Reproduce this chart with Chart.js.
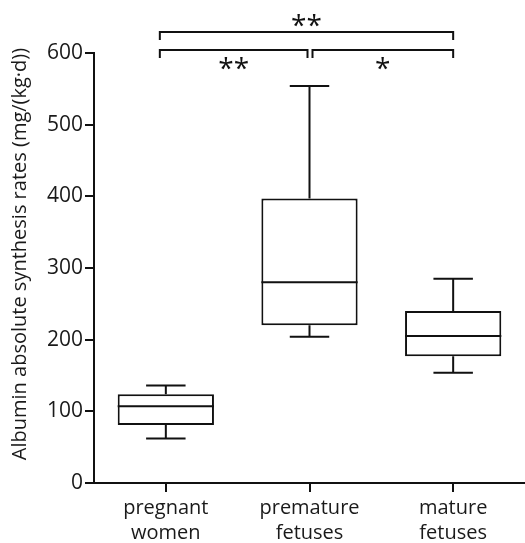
<!DOCTYPE html>
<html>
<head>
<meta charset="utf-8">
<script src="https://cdn.jsdelivr.net/npm/chart.js@4.4.1/dist/chart.umd.min.js"></script>
<style>
  html, body { margin: 0; padding: 0; background: #fff; }
  #wrap { width: 525px; height: 543px; }
</style>
</head>
<body>
<div id="wrap"><canvas id="boxChart" width="525" height="543"></canvas></div>
<script>
// Data
const groups = [["pregnant", "women"], ["premature", "fetuses"], ["mature", "fetuses"]];
const whiskerMin = [62, 204, 154];
const q1Values = [81, 220, 177];
const medians = [107, 280, 205];
const q3Values = [124, 397, 240];
const whiskerMax = [136, 554, 285];
const yTicks = [0, 100, 200, 300, 400, 500, 600];
const yTitle = "Albumin absolute synthesis rates (mg/(kg·d))";

// significance brackets: [from group, to group, label, level]
const brackets = [
  [0, 2, "**", 0],
  [0, 1, "**", 1],
  [1, 2, "*", 1],
];

const INK = "#111";
const FONT = "'Open Sans', sans-serif";

// Whiskers, medians, significance brackets and the y title
const boxPlotPlugin = {
  id: "boxPlot",
  afterDatasetsDraw(chart) {
    const ctx = chart.ctx;
    const yScale = chart.scales.y;
    const xScale = chart.scales.x;
    const meta = chart.getDatasetMeta(0);

    ctx.save();
    ctx.strokeStyle = INK;
    ctx.lineWidth = 2;
    ctx.lineCap = "butt";

    meta.data.forEach((bar, i) => {
      const x = bar.x;
      const half = bar.width / 2;
      const capHalf = bar.width * 0.205;
      const yMed = yScale.getPixelForValue(medians[i]);
      const yQ1 = yScale.getPixelForValue(q1Values[i]);
      const yQ3 = yScale.getPixelForValue(q3Values[i]);
      const yMin = yScale.getPixelForValue(whiskerMin[i]);
      const yMax = yScale.getPixelForValue(whiskerMax[i]);

      ctx.beginPath();
      // median
      ctx.moveTo(x - half, yMed);
      ctx.lineTo(x + half, yMed);
      // upper whisker
      ctx.moveTo(x, yQ3);
      ctx.lineTo(x, yMax);
      ctx.moveTo(x - capHalf, yMax);
      ctx.lineTo(x + capHalf, yMax);
      // lower whisker
      ctx.moveTo(x, yQ1);
      ctx.lineTo(x, yMin);
      ctx.moveTo(x - capHalf, yMin);
      ctx.lineTo(x + capHalf, yMin);
      ctx.stroke();
    });

    // brackets above the plot area
    const top = chart.chartArea.top;
    brackets.forEach(([a, b, label, level]) => {
      const yLine = level === 0 ? top - 21 : top - 3;
      let x1 = xScale.getPixelForValue(a) - 6;
      let x2 = xScale.getPixelForValue(b);
      if (level === 1) {
        x1 = a === 0 ? x1 : xScale.getPixelForValue(a) + 3;
        x2 = b === 1 ? x2 - 2 : x2;
      }
      ctx.beginPath();
      ctx.moveTo(x1, yLine + 8);
      ctx.lineTo(x1, yLine);
      ctx.lineTo(x2, yLine);
      ctx.lineTo(x2, yLine + 8);
      ctx.stroke();

      ctx.fillStyle = INK;
      ctx.font = "28px " + FONT;
      ctx.textAlign = "center";
      ctx.textBaseline = "middle";
      const tx = (x1 + x2) / 2;
      const ty = level === 0 ? yLine - 5 : yLine + 20;
      ctx.fillText(label, tx, ty);
    });

    // y title, sitting a bit above the axis centre as in the original
    const { bottom } = chart.chartArea;
    ctx.translate(20, (top + bottom) / 2 - 14);
    ctx.rotate(-Math.PI / 2);
    ctx.fillStyle = "#1a1a1a";
    ctx.font = "20px " + FONT;
    ctx.textAlign = "center";
    ctx.textBaseline = "middle";
    ctx.fillText(yTitle, 0, 0);
    ctx.restore();
  },
};

new Chart(document.getElementById("boxChart"), {
  type: "bar",
  data: {
    labels: groups,
    datasets: [
      {
        data: q1Values.map((q, i) => [q, q3Values[i]]),
        backgroundColor: "#fff",
        borderColor: INK,
        borderWidth: 2,
        borderSkipped: false,
        categoryPercentage: 1,
        barPercentage: 0.67,
      },
    ],
  },
  options: {
    responsive: false,
    animation: false,
    layout: { padding: { top: 53, right: 0, bottom: 0, left: 0 } },
    plugins: {
      legend: { display: false },
      tooltip: { enabled: false },
    },
    scales: {
      x: {
        offset: true,
        grid: {
          offset: false,
          drawOnChartArea: false,
          drawTicks: true,
          tickLength: 9,
          tickColor: INK,
          lineWidth: 2,
        },
        border: { display: true, color: INK, width: 2 },
        ticks: {
          color: "#1a1a1a",
          font: { family: FONT, size: 20, lineHeight: 1.25 },
          padding: 4,
          maxRotation: 0,
        },
        afterFit: (scale) => {
          scale.height = 60;
        },
      },
      y: {
        min: 0,
        max: 600,
        afterBuildTicks: (scale) => {
          scale.ticks = yTicks.map((v) => ({ value: v }));
        },
        grid: {
          drawOnChartArea: false,
          drawTicks: true,
          tickLength: 9,
          tickColor: INK,
          lineWidth: 2,
        },
        border: { display: true, color: INK, width: 2 },
        ticks: {
          color: "#1a1a1a",
          font: { family: FONT, size: 21 },
          padding: 2,
        },
        afterFit: (scale) => {
          scale.width = 94;
        },
      },
    },
  },
  plugins: [boxPlotPlugin],
});
</script>
</body>
</html>
